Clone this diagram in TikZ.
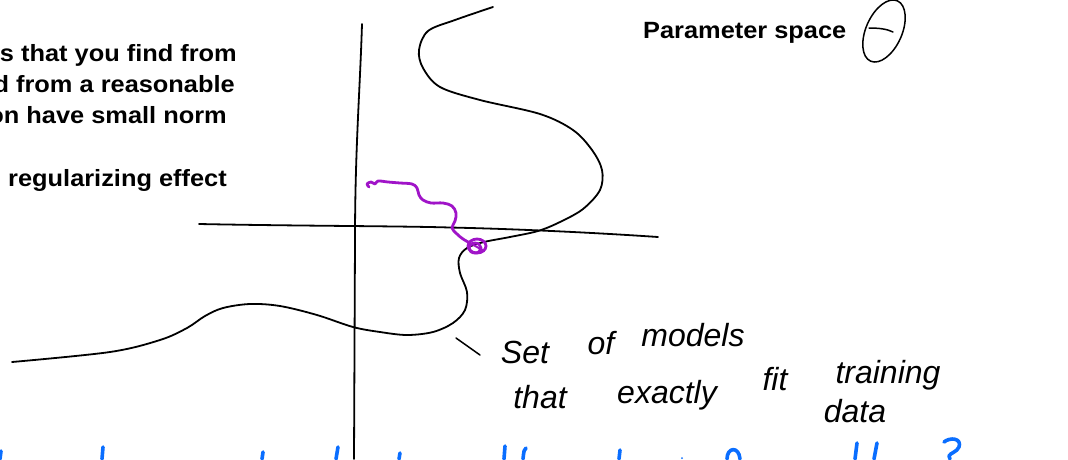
\documentclass[tikz,border=0pt]{standalone}
\usepackage{fontspec}
\newfontfamily\lbl[FakeStretch=1.08]{Liberation Sans}
\newfontfamily\handfont{Liberation Sans}
\definecolor{pur}{RGB}{160,20,200}
\definecolor{hblue}{RGB}{10,110,255}
\begin{document}
\begin{tikzpicture}[x=1pt,y=-1pt,
  pen/.style={line width=1.8pt,line cap=round,line join=round},
  ppen/.style={draw=pur,line width=2.8pt,line cap=round,line join=round},
  bpen/.style={draw=hblue,line width=3.6pt,line cap=round,line join=round},
  lbltext/.style={inner sep=0pt,anchor=base east,font=\lbl\bfseries\fontsize{23.5}{28}\selectfont},
  hand/.style={inner sep=0pt,anchor=base,font=\handfont\itshape\fontsize{32}{36}\selectfont}]
\useasboundingbox (0,0) rectangle (1068,459);
\clip (0,0) rectangle (1068,459);
\fill[white] (0,0) rectangle (1068,459);

% left text block (cut at the left edge, as in the reference)
\node[lbltext] (t1) at (237,61) {s that you find from};
\node[lbltext] (t2) at (235,92) {d from a reasonable};
\node[lbltext] (t3) at (227,123) {on have small norm};
\node[lbltext] (t4) at (227,186) {regularizing effect};

% parameter space label
\node[lbltext,anchor=base west] (ps) at (643,38) {Parameter space};
\draw[pen,line width=1.5pt,rotate around={66:(884,31)}] (884,31) ellipse [x radius=33pt,y radius=18pt];
\draw[pen,line width=1.5pt] (869,28) .. controls (879,28) and (887,29) .. (893,32);

% axes
\draw[pen] (362,24) .. controls (360,90) and (355,150) .. (355,240) -- (354,459);
\draw[pen] (199,224) .. controls (300,226) and (400,226) .. (450,227.5) .. controls (520,229) and (600,233) .. (658,237);

% set of models curve
\draw[pen] plot[smooth,tension=0.55] coordinates {(493,7) (455,20) (428,31) (419,50) (423,68) (440,87) (480,100) (540,114) (573,130) (592,150) (602,170) (600,190) (583,209) (560,222) (538,231) (510,237) (484,242) (467,248) (459,258) (460,273) (467,292) (465,310) (453,323) (433,332) (407,335) (380,332) (353,327) (317,315) (280,306) (250,304) (223,308) (205,316) (187,328) (160,340) (110,352) (12,362)};

% pointer and handwritten note
\coordinate (pa) at (456,338);
\coordinate (pb) at (480,355);
\draw[pen,line width=1.5pt] (pa) -- (pb);
\node[hand] (w1) at (525,363) {Set};
\node[hand] (w2) at (601,354) {of};
\node[hand] (w3) at (693,346) {models};
\node[hand] (w4) at (540,408) {that};
\node[hand] (w5) at (667,403) {exactly};
\node[hand] (w6) at (775,390) {fit};
\node[hand] (w7) at (888,383) {training};
\node[hand] (w8) at (855,422) {data};

% purple optimisation path
\draw[ppen] plot[smooth,tension=0.6] coordinates {(369,187) (367,184) (371,182) (375,184) (378,181) (388,182) (400,183) (412,184) (417,188) (419,195) (423,200) (431,203) (443,203) (452,206) (456,213) (455,221) (452,228) (457,234) (463,239) (470,243)};
\draw[ppen] (477,246) ellipse [x radius=9pt,y radius=7pt];
\draw[ppen] (475,248) ellipse [x radius=6pt,y radius=5pt];
\draw[ppen,line width=2pt] (470,243) -- (484,251);

% blue writing cut off at the bottom
\draw[bpen] (1,451) -- (0,459);
\draw[bpen] (103,447) -- (102,459);
\draw[bpen] (263,452) -- (262,459);
\draw[bpen] (338,447) -- (336,459);
\draw[bpen] (400,453) -- (399,459);
\draw[bpen] (505,446) -- (504,459);
\draw[bpen] (526,448) .. controls (524,450) .. (523,459);
\draw[bpen] (620,450) -- (619,459);
\fill[hblue] (682,458) circle (1pt);
\draw[bpen] (727,459) .. controls (727,447) and (739,446) .. (740,459);
\draw[bpen] (857,443) -- (855,459);
\draw[bpen] (877,443) -- (874,459);
\draw[bpen] (944,442) .. controls (950,437) and (962,438) .. (959,447) .. controls (957,452) and (950,453) .. (949,456) -- (950,459);
\end{tikzpicture}
\end{document}
